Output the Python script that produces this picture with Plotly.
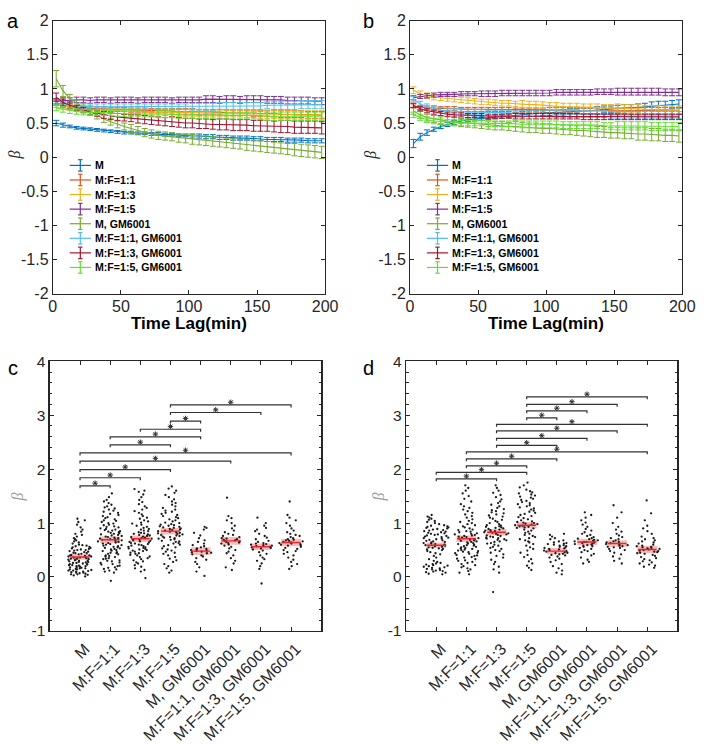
import plotly.graph_objects as go

W, H = 708, 744
FONT = "Arial, 'Liberation Sans', Helvetica, sans-serif"
INK = "#262626"

# ---------------- panels a / b : beta vs time lag ----------------
lags = [2.5, 7.5, 12.5, 17.5, 22.5, 27.5, 32.5, 37.5, 42.5, 47.5,
        52.5, 57.5, 62.5, 67.5, 72.5, 77.5, 82.5, 87.5, 92.5, 97.5,
        102.5, 107.5, 112.5, 117.5, 122.5, 127.5, 132.5, 137.5, 142.5, 147.5,
        152.5, 157.5, 162.5, 167.5, 172.5, 177.5, 182.5, 187.5, 192.5, 197.5]

names = ["M", "M:F=1:1", "M:F=1:3", "M:F=1:5", "M, GM6001",
         "M:F=1:1, GM6001", "M:F=1:3, GM6001", "M:F=1:5, GM6001"]
colors = ["#0072BD", "#D95319", "#EDB120", "#7E2F8E", "#77AC30",
          "#4DBEEE", "#A2142F", "#5FE02E"]

a_M = [0.50,0.47,0.45,0.43,0.42,0.41,0.40,0.39,0.38,0.37,0.36,0.36,0.35,0.35,0.34,0.34,0.33,0.33,0.32,0.32,
       0.31,0.31,0.30,0.30,0.29,0.29,0.28,0.28,0.28,0.27,0.27,0.26,0.26,0.26,0.25,0.25,0.25,0.24,0.24,0.24]
a_M_err = [0.04,0.03,0.02,0.02,0.02,0.02,0.02,0.02,0.02,0.02,0.02,0.02,0.02,0.02,0.02,0.02,0.02,0.02,0.02,0.02,
           0.03,0.03,0.03,0.03,0.03,0.03,0.03,0.03,0.03,0.03,0.03,0.03,0.03,0.03,0.03,0.03,0.03,0.03,0.03,0.03]
a_MF11 = [0.80,0.76,0.74,0.73,0.72,0.72,0.71,0.71,0.70,0.70,0.70,0.69,0.69,0.69,0.68,0.68,0.68,0.67,0.67,0.67,
          0.67,0.66,0.66,0.66,0.66,0.65,0.65,0.65,0.65,0.64,0.64,0.64,0.64,0.63,0.63,0.63,0.63,0.62,0.62,0.62]
a_MF11_err = [0.04,0.03,0.03,0.03,0.03,0.03,0.03,0.03,0.03,0.03,0.03,0.03,0.03,0.03,0.03,0.03,0.03,0.04,0.04,0.04,
              0.04,0.04,0.04,0.04,0.04,0.04,0.04,0.04,0.04,0.04,0.04,0.04,0.05,0.05,0.05,0.05,0.05,0.05,0.05,0.05]
a_MF13 = [0.78,0.75,0.73,0.72,0.71,0.70,0.69,0.69,0.68,0.68,0.67,0.67,0.67,0.66,0.66,0.66,0.66,0.65,0.65,0.65,
          0.65,0.65,0.64,0.64,0.64,0.64,0.64,0.64,0.63,0.63,0.63,0.63,0.63,0.63,0.63,0.62,0.62,0.62,0.62,0.62]
a_MF13_err = [0.05,0.04,0.04,0.04,0.04,0.04,0.04,0.04,0.04,0.04,0.04,0.04,0.04,0.04,0.04,0.04,0.05,0.05,0.05,0.05,
              0.05,0.05,0.05,0.05,0.05,0.05,0.05,0.05,0.05,0.05,0.06,0.06,0.06,0.06,0.06,0.06,0.06,0.06,0.06,0.06]
a_MF15 = [0.82,0.83,0.83,0.84,0.84,0.83,0.84,0.84,0.83,0.84,0.84,0.84,0.83,0.84,0.84,0.84,0.84,0.83,0.84,0.84,
          0.84,0.84,0.85,0.85,0.84,0.85,0.85,0.84,0.85,0.85,0.85,0.84,0.84,0.84,0.83,0.83,0.83,0.83,0.82,0.82]
a_MF15_err = [0.04,0.04,0.04,0.04,0.04,0.04,0.04,0.04,0.04,0.04,0.04,0.04,0.04,0.04,0.04,0.04,0.04,0.04,0.04,0.04,
              0.04,0.04,0.05,0.05,0.05,0.05,0.05,0.05,0.05,0.05,0.05,0.05,0.05,0.05,0.05,0.05,0.05,0.05,0.05,0.05]
a_MG = [1.15,0.97,0.86,0.79,0.73,0.67,0.61,0.56,0.52,0.48,0.45,0.42,0.39,0.36,0.34,0.32,0.31,0.30,0.28,0.27,
        0.26,0.25,0.24,0.23,0.22,0.21,0.20,0.19,0.18,0.17,0.16,0.15,0.14,0.13,0.12,0.11,0.10,0.09,0.08,0.07]
a_MG_err = [0.12,0.08,0.06,0.05,0.05,0.05,0.05,0.05,0.05,0.05,0.05,0.06,0.06,0.06,0.06,0.06,0.06,0.06,0.06,0.06,
            0.07,0.07,0.07,0.07,0.07,0.07,0.07,0.07,0.08,0.08,0.08,0.08,0.08,0.08,0.08,0.09,0.09,0.09,0.09,0.09]
a_MF11G = [0.80,0.77,0.76,0.75,0.75,0.74,0.74,0.74,0.74,0.74,0.74,0.74,0.74,0.74,0.74,0.74,0.74,0.74,0.74,0.74,
           0.74,0.74,0.74,0.74,0.75,0.75,0.75,0.75,0.75,0.75,0.75,0.76,0.76,0.76,0.76,0.76,0.77,0.77,0.77,0.77]
a_MF11G_err = [0.04,0.04,0.04,0.04,0.04,0.04,0.04,0.04,0.04,0.04,0.04,0.04,0.04,0.04,0.04,0.04,0.04,0.04,0.04,0.04,
               0.05,0.05,0.05,0.05,0.05,0.05,0.05,0.05,0.05,0.05,0.05,0.05,0.06,0.06,0.06,0.06,0.06,0.06,0.06,0.06]
a_MF13G = [0.88,0.80,0.76,0.72,0.69,0.66,0.64,0.62,0.60,0.59,0.58,0.57,0.56,0.55,0.54,0.53,0.52,0.52,0.51,0.50,
           0.50,0.49,0.49,0.48,0.48,0.48,0.47,0.47,0.47,0.46,0.46,0.46,0.45,0.45,0.45,0.44,0.44,0.44,0.44,0.43]
a_MF13G_err = [0.06,0.05,0.05,0.04,0.04,0.04,0.04,0.05,0.05,0.05,0.05,0.05,0.06,0.06,0.06,0.06,0.06,0.07,0.07,0.07,
               0.07,0.07,0.07,0.07,0.08,0.08,0.08,0.08,0.08,0.08,0.08,0.08,0.08,0.09,0.09,0.09,0.09,0.09,0.09,0.09]
a_MF15G = [0.72,0.70,0.68,0.67,0.66,0.66,0.65,0.65,0.65,0.64,0.64,0.64,0.64,0.63,0.63,0.63,0.63,0.63,0.62,0.62,
           0.62,0.62,0.62,0.62,0.61,0.61,0.61,0.61,0.61,0.61,0.61,0.60,0.60,0.60,0.60,0.60,0.60,0.60,0.60,0.60]
a_MF15G_err = [0.04,0.04,0.04,0.04,0.04,0.04,0.04,0.04,0.04,0.04,0.04,0.04,0.04,0.04,0.04,0.05,0.05,0.05,0.05,0.05,
               0.05,0.05,0.05,0.05,0.05,0.05,0.05,0.05,0.05,0.05,0.06,0.06,0.06,0.06,0.06,0.06,0.06,0.06,0.06,0.06]

b_M = [0.20,0.30,0.36,0.41,0.45,0.48,0.51,0.53,0.55,0.56,0.57,0.58,0.59,0.60,0.61,0.62,0.63,0.64,0.64,0.65,
       0.65,0.66,0.66,0.67,0.67,0.68,0.68,0.69,0.70,0.70,0.71,0.72,0.72,0.73,0.74,0.75,0.76,0.76,0.77,0.78]
b_M_err = [0.06,0.05,0.04,0.03,0.03,0.03,0.03,0.03,0.03,0.03,0.03,0.03,0.03,0.03,0.03,0.03,0.04,0.04,0.04,0.04,
           0.04,0.04,0.04,0.04,0.04,0.04,0.04,0.05,0.05,0.05,0.05,0.05,0.05,0.05,0.05,0.06,0.06,0.06,0.06,0.06]
b_MF11 = [0.75,0.73,0.72,0.72,0.71,0.71,0.71,0.70,0.70,0.70,0.70,0.70,0.70,0.70,0.70,0.69,0.69,0.69,0.69,0.69,
          0.69,0.69,0.69,0.69,0.69,0.68,0.68,0.68,0.68,0.68,0.68,0.68,0.68,0.68,0.68,0.68,0.68,0.68,0.68,0.68]
b_MF11_err = [0.03,0.03,0.03,0.03,0.03,0.03,0.03,0.03,0.03,0.03,0.03,0.03,0.03,0.03,0.03,0.03,0.03,0.03,0.03,0.03,
              0.04,0.04,0.04,0.04,0.04,0.04,0.04,0.04,0.04,0.04,0.04,0.04,0.05,0.05,0.05,0.05,0.05,0.05,0.05,0.05]
b_MF13 = [0.98,0.93,0.90,0.88,0.87,0.86,0.85,0.84,0.83,0.82,0.81,0.81,0.80,0.79,0.79,0.78,0.78,0.77,0.77,0.76,
          0.75,0.75,0.74,0.74,0.74,0.73,0.73,0.73,0.72,0.72,0.72,0.71,0.71,0.71,0.70,0.70,0.70,0.69,0.69,0.69]
b_MF13_err = [0.05,0.04,0.04,0.04,0.04,0.04,0.04,0.04,0.04,0.04,0.04,0.04,0.04,0.04,0.04,0.04,0.05,0.05,0.05,0.05,
              0.05,0.05,0.05,0.05,0.05,0.05,0.05,0.05,0.05,0.05,0.06,0.06,0.06,0.06,0.06,0.06,0.06,0.06,0.06,0.06]
b_MF15 = [0.87,0.89,0.90,0.91,0.92,0.92,0.92,0.93,0.93,0.93,0.93,0.93,0.93,0.94,0.94,0.94,0.94,0.94,0.94,0.94,
          0.94,0.95,0.95,0.95,0.95,0.95,0.95,0.96,0.96,0.96,0.96,0.96,0.96,0.96,0.96,0.96,0.96,0.95,0.95,0.95]
b_MF15_err = [0.03,0.03,0.03,0.03,0.03,0.03,0.03,0.03,0.03,0.03,0.04,0.04,0.04,0.04,0.04,0.04,0.04,0.04,0.04,0.04,
              0.04,0.04,0.04,0.04,0.04,0.04,0.04,0.04,0.04,0.04,0.05,0.05,0.05,0.05,0.05,0.05,0.05,0.05,0.05,0.05]
b_MG = [0.68,0.62,0.58,0.56,0.54,0.53,0.52,0.51,0.50,0.49,0.48,0.47,0.46,0.46,0.45,0.45,0.44,0.43,0.43,0.42,
        0.42,0.41,0.40,0.40,0.39,0.39,0.38,0.37,0.37,0.36,0.36,0.35,0.35,0.34,0.34,0.33,0.33,0.32,0.32,0.31]
b_MG_err = [0.05,0.05,0.05,0.05,0.05,0.06,0.06,0.06,0.06,0.06,0.06,0.06,0.06,0.06,0.06,0.07,0.07,0.07,0.07,0.07,
            0.07,0.07,0.07,0.07,0.07,0.08,0.08,0.08,0.08,0.08,0.08,0.08,0.08,0.09,0.09,0.09,0.09,0.09,0.09,0.09]
b_MF11G = [0.85,0.78,0.74,0.71,0.69,0.68,0.67,0.67,0.66,0.66,0.66,0.65,0.65,0.65,0.65,0.64,0.64,0.64,0.64,0.64,
           0.64,0.63,0.63,0.63,0.63,0.63,0.63,0.63,0.63,0.62,0.62,0.62,0.62,0.62,0.62,0.62,0.62,0.62,0.62,0.62]
b_MF11G_err = [0.04,0.04,0.04,0.04,0.04,0.04,0.04,0.04,0.04,0.04,0.04,0.04,0.04,0.04,0.04,0.04,0.04,0.04,0.04,0.04,
               0.05,0.05,0.05,0.05,0.05,0.05,0.05,0.05,0.05,0.05,0.05,0.05,0.05,0.05,0.05,0.05,0.05,0.05,0.05,0.05]
b_MF13G = [0.76,0.71,0.68,0.66,0.64,0.63,0.62,0.62,0.61,0.61,0.61,0.60,0.60,0.60,0.60,0.60,0.60,0.60,0.60,0.60,
           0.60,0.60,0.60,0.60,0.60,0.59,0.59,0.59,0.59,0.59,0.59,0.59,0.59,0.59,0.59,0.59,0.59,0.59,0.59,0.59]
b_MF13G_err = [0.03,0.03,0.03,0.03,0.03,0.03,0.03,0.03,0.03,0.03,0.03,0.03,0.03,0.03,0.03,0.04,0.04,0.04,0.04,0.04,
               0.04,0.04,0.04,0.04,0.04,0.04,0.04,0.04,0.04,0.04,0.04,0.04,0.04,0.04,0.04,0.04,0.04,0.04,0.04,0.04]
b_MF15G = [0.62,0.58,0.55,0.53,0.52,0.51,0.51,0.50,0.50,0.50,0.50,0.49,0.49,0.49,0.49,0.49,0.48,0.48,0.48,0.48,
           0.48,0.48,0.47,0.47,0.47,0.47,0.47,0.47,0.46,0.46,0.46,0.46,0.46,0.46,0.46,0.45,0.45,0.45,0.45,0.45]
b_MF15G_err = [0.04,0.04,0.04,0.04,0.04,0.04,0.04,0.04,0.04,0.04,0.04,0.04,0.04,0.04,0.04,0.05,0.05,0.05,0.05,0.05,
               0.05,0.05,0.05,0.05,0.05,0.05,0.05,0.05,0.05,0.05,0.06,0.06,0.06,0.06,0.06,0.06,0.06,0.06,0.06,0.06]

a_series = [(a_M, a_M_err), (a_MF11, a_MF11_err), (a_MF13, a_MF13_err), (a_MF15, a_MF15_err),
            (a_MG, a_MG_err), (a_MF11G, a_MF11G_err), (a_MF13G, a_MF13G_err), (a_MF15G, a_MF15G_err)]
b_series = [(b_M, b_M_err), (b_MF11, b_MF11_err), (b_MF13, b_MF13_err), (b_MF15, b_MF15_err),
            (b_MG, b_MG_err), (b_MF11G, b_MF11G_err), (b_MF13G, b_MF13G_err), (b_MF15G, b_MF15G_err)]

ab_xticks = [0, 50, 100, 150, 200]
ab_yticks = [-2, -1.5, -1, -0.5, 0, 0.5, 1, 1.5, 2]
ab_yticktext = ["-2", "-1.5", "-1", "-0.5", "0", "0.5", "1", "1.5", "2"]

# ---------------- panels c / d : per-cell beta ----------------
c_M = [0.01,0.03,0.04,0.05,0.05,0.06,0.07,0.08,0.08,0.09,0.10,0.10,0.11,0.12,0.12,0.13,0.14,0.14,0.15,0.16,
       0.16,0.17,0.18,0.18,0.19,0.20,0.20,0.21,0.22,0.22,0.23,0.24,0.24,0.25,0.26,0.26,0.27,0.28,0.28,0.29,
       0.30,0.30,0.31,0.32,0.32,0.33,0.34,0.34,0.35,0.36,0.36,0.37,0.38,0.38,0.39,0.40,0.40,0.41,0.42,0.43,
       0.44,0.44,0.45,0.46,0.47,0.48,0.49,0.50,0.50,0.51,0.52,0.53,0.54,0.55,0.56,0.57,0.58,0.59,0.60,0.62,
       0.64,0.66,0.68,0.70,0.72,0.75,0.78,0.80,0.84,0.88,0.92,0.97,1.02,1.05,1.08]
c_MF11 = [-0.07,0.08,0.10,0.12,0.14,0.15,0.17,0.18,0.20,0.21,0.23,0.24,0.26,0.27,0.29,0.30,0.31,0.33,0.34,0.35,
          0.37,0.38,0.39,0.40,0.42,0.43,0.44,0.45,0.46,0.48,0.49,0.50,0.51,0.52,0.53,0.54,0.55,0.56,0.57,0.58,
          0.59,0.60,0.61,0.62,0.63,0.64,0.65,0.66,0.67,0.68,0.69,0.70,0.70,0.71,0.72,0.73,0.74,0.75,0.76,0.77,
          0.78,0.79,0.80,0.81,0.82,0.83,0.84,0.85,0.86,0.87,0.88,0.89,0.90,0.92,0.93,0.94,0.96,0.97,0.99,1.00,
          1.02,1.04,1.05,1.07,1.09,1.11,1.13,1.15,1.17,1.19,1.21,1.23,1.25,1.27,1.29,1.31,1.34,1.37,1.40,1.43,
          1.48,1.55]
c_MF13 = [-0.02,0.10,0.13,0.16,0.19,0.22,0.25,0.27,0.29,0.31,0.33,0.35,0.37,0.38,0.40,0.41,0.43,0.44,0.45,0.47,
          0.48,0.49,0.50,0.51,0.52,0.53,0.54,0.55,0.56,0.57,0.58,0.59,0.60,0.61,0.62,0.63,0.64,0.65,0.66,0.67,
          0.68,0.69,0.70,0.71,0.72,0.73,0.74,0.75,0.76,0.77,0.78,0.79,0.80,0.81,0.82,0.83,0.85,0.86,0.88,0.89,
          0.91,0.93,0.95,0.97,0.99,1.01,1.03,1.05,1.08,1.10,1.13,1.16,1.19,1.22,1.25,1.28,1.31,1.35,1.39,1.43,
          1.48,1.53,1.58,1.60,1.63]
c_MF15 = [0.08,0.12,0.16,0.20,0.24,0.28,0.31,0.34,0.37,0.40,0.43,0.45,0.47,0.49,0.51,0.53,0.55,0.57,0.59,0.60,
          0.62,0.63,0.65,0.66,0.67,0.69,0.70,0.71,0.72,0.73,0.74,0.75,0.76,0.77,0.78,0.79,0.80,0.81,0.82,0.83,
          0.84,0.85,0.86,0.87,0.88,0.89,0.90,0.91,0.92,0.93,0.94,0.95,0.96,0.97,0.98,1.00,1.01,1.03,1.05,1.07,
          1.09,1.11,1.13,1.15,1.17,1.19,1.21,1.23,1.25,1.28,1.31,1.34,1.37,1.40,1.44,1.48,1.52,1.56,1.60,1.64,
          1.68]
c_MG = [0.02,0.10,0.18,0.24,0.28,0.32,0.35,0.38,0.40,0.42,0.44,0.45,0.46,0.47,0.48,0.49,0.50,0.51,0.52,0.53,
        0.55,0.57,0.59,0.62,0.65,0.68,0.72,0.77,0.82,0.88,0.91,0.93]
c_MF11G = [0.13,0.18,0.25,0.30,0.35,0.40,0.44,0.47,0.50,0.53,0.56,0.58,0.60,0.62,0.63,0.64,0.65,0.66,0.67,0.68,
           0.69,0.70,0.71,0.72,0.74,0.76,0.78,0.80,0.83,0.86,0.90,0.95,1.00,1.05,1.09,1.13,1.47]
c_MF13G = [-0.12,0.15,0.20,0.25,0.30,0.33,0.36,0.40,0.43,0.46,0.49,0.51,0.53,0.54,0.55,0.56,0.57,0.58,0.59,0.60,
           0.61,0.62,0.63,0.65,0.67,0.70,0.73,0.76,0.80,0.85,0.88,0.91,0.95,1.00,1.10]
c_MF15G = [0.15,0.20,0.24,0.28,0.32,0.36,0.40,0.43,0.46,0.48,0.50,0.52,0.54,0.56,0.58,0.59,0.60,0.61,0.62,0.63,
           0.64,0.65,0.66,0.67,0.68,0.69,0.70,0.72,0.74,0.76,0.78,0.80,0.83,0.86,0.90,0.95,1.00,1.05,1.10,1.15,
           1.40]
c_mean = [0.37, 0.69, 0.71, 0.85, 0.48, 0.67, 0.56, 0.64]
c_sem = [0.05, 0.06, 0.06, 0.06, 0.07, 0.07, 0.06, 0.07]
c_br_from = [0, 0, 0, 0, 0, 1, 1, 2, 3, 3, 3]
c_br_to = [1, 2, 3, 5, 7, 3, 4, 4, 4, 6, 7]
c_br_y = [1.69, 1.84, 1.99, 2.15, 2.30, 2.45, 2.60, 2.74, 2.89, 3.05, 3.19]

d_M = [0.05,0.06,0.08,0.09,0.10,0.11,0.12,0.13,0.14,0.15,0.16,0.17,0.18,0.19,0.20,0.21,0.22,0.23,0.24,0.25,
       0.26,0.28,0.30,0.33,0.36,0.39,0.42,0.44,0.46,0.48,0.50,0.51,0.52,0.53,0.54,0.55,0.56,0.57,0.58,0.59,
       0.60,0.61,0.62,0.63,0.64,0.65,0.66,0.67,0.68,0.69,0.70,0.71,0.72,0.73,0.74,0.75,0.76,0.77,0.78,0.79,
       0.80,0.81,0.82,0.83,0.84,0.85,0.86,0.87,0.88,0.89,0.90,0.91,0.92,0.93,0.94,0.95,0.96,0.98,1.00,1.02,
       1.04,1.06,1.08,1.10,1.12,1.15]
d_MF11 = [0.05,0.08,0.11,0.14,0.16,0.18,0.20,0.22,0.24,0.26,0.28,0.30,0.31,0.33,0.34,0.36,0.37,0.39,0.40,0.41,
          0.43,0.44,0.45,0.46,0.47,0.48,0.49,0.50,0.51,0.52,0.53,0.54,0.55,0.56,0.57,0.58,0.59,0.60,0.61,0.62,
          0.63,0.64,0.65,0.66,0.67,0.68,0.69,0.70,0.71,0.72,0.73,0.74,0.75,0.76,0.77,0.78,0.79,0.80,0.81,0.83,
          0.84,0.85,0.87,0.88,0.90,0.92,0.94,0.96,0.98,1.00,1.02,1.04,1.07,1.10,1.13,1.16,1.19,1.22,1.25,1.28,
          1.31,1.35,1.40,1.45,1.50,1.55,1.60,1.65,1.70]
d_MF13 = [-0.28,0.08,0.14,0.19,0.24,0.28,0.32,0.36,0.39,0.42,0.45,0.48,0.50,0.52,0.54,0.56,0.58,0.60,0.62,0.63,
          0.65,0.66,0.68,0.69,0.70,0.71,0.72,0.73,0.74,0.75,0.76,0.77,0.78,0.79,0.80,0.81,0.82,0.83,0.84,0.85,
          0.86,0.87,0.88,0.89,0.90,0.91,0.92,0.93,0.94,0.95,0.96,0.98,1.00,1.02,1.04,1.06,1.08,1.10,1.12,1.14,
          1.16,1.18,1.20,1.22,1.24,1.26,1.28,1.31,1.34,1.37,1.40,1.44,1.48,1.52,1.56,1.60,1.65,1.70]
d_MF15 = [0.13,0.17,0.21,0.25,0.29,0.33,0.37,0.41,0.45,0.49,0.52,0.55,0.58,0.61,0.64,0.66,0.68,0.70,0.72,0.74,
          0.76,0.78,0.80,0.82,0.84,0.86,0.88,0.90,0.91,0.92,0.93,0.94,0.95,0.96,0.97,0.98,0.99,1.00,1.01,1.02,
          1.03,1.05,1.07,1.09,1.11,1.13,1.15,1.17,1.19,1.21,1.23,1.25,1.27,1.29,1.31,1.33,1.35,1.37,1.39,1.41,
          1.43,1.45,1.47,1.49,1.51,1.53,1.55,1.57,1.59,1.62,1.66,1.70,1.75]
d_MG = [0.05,0.08,0.12,0.16,0.20,0.24,0.28,0.31,0.34,0.36,0.38,0.40,0.41,0.42,0.43,0.44,0.45,0.46,0.47,0.48,
        0.49,0.50,0.51,0.52,0.53,0.54,0.55,0.56,0.57,0.58,0.59,0.60,0.61,0.62,0.63,0.64,0.66,0.68,0.70,0.72,
        0.75,0.78,0.80]
d_MF11G = [0.25,0.28,0.32,0.36,0.40,0.43,0.46,0.48,0.50,0.52,0.54,0.56,0.57,0.58,0.59,0.60,0.61,0.62,0.63,0.64,
           0.65,0.65,0.66,0.67,0.68,0.69,0.70,0.71,0.72,0.74,0.76,0.78,0.80,0.83,0.86,0.89,0.93,0.97,1.01,1.05,
           1.10,1.15,1.20]
d_MF13G = [0.25,0.30,0.34,0.38,0.42,0.45,0.48,0.50,0.52,0.54,0.55,0.56,0.57,0.58,0.59,0.60,0.61,0.62,0.63,0.64,
           0.65,0.66,0.68,0.70,0.72,0.74,0.77,0.80,0.84,0.88,0.93,1.00,1.10,1.20,1.33]
d_MF15G = [0.17,0.19,0.21,0.23,0.25,0.27,0.29,0.31,0.33,0.35,0.37,0.39,0.41,0.43,0.44,0.45,0.46,0.47,0.48,0.49,
           0.50,0.51,0.52,0.53,0.54,0.55,0.56,0.57,0.58,0.60,0.62,0.64,0.66,0.68,0.70,0.72,0.75,0.80,0.85,0.90,
           0.95,1.05,1.18,1.42]
d_mean = [0.59, 0.71, 0.83, 0.96, 0.48, 0.65, 0.62, 0.51]
d_sem = [0.05, 0.06, 0.06, 0.06, 0.06, 0.06, 0.06, 0.07]
d_br_from = [0, 0, 1, 1, 1, 2, 2, 2, 2, 3, 3, 3, 3]
d_br_to = [2, 3, 3, 4, 7, 4, 5, 6, 7, 4, 5, 6, 7]
d_br_y = [1.82, 1.94, 2.06, 2.19, 2.32, 2.44, 2.57, 2.71, 2.83, 2.95, 3.08, 3.20, 3.34]

c_groups = [c_M, c_MF11, c_MF13, c_MF15, c_MG, c_MF11G, c_MF13G, c_MF15G]
d_groups = [d_M, d_MF11, d_MF13, d_MF15, d_MG, d_MF11G, d_MF13G, d_MF15G]
cd_yticks = [-1, 0, 1, 2, 3, 4]
cd_yticktext = ["-1", "0", "1", "2", "3", "4"]

# ---------------- layout geometry (pixels -> paper) ----------------
def dx(x0, x1):
    return [x0 / W, x1 / W]

def dy(top, bot):
    return [1 - bot / H, 1 - top / H]

panels = {
    "a": dict(ax="", xd=dx(50, 329), yd=dy(12, 293)),
    "b": dict(ax="2", xd=dx(416, 695), yd=dy(12, 293)),
    "c": dict(ax="3", xd=dx(47, 325), yd=dy(362.5, 640)),
    "d": dict(ax="4", xd=dx(412, 690), yd=dy(362.5, 640)),
}

fig = go.Figure()
shapes = []
annotations = []

# ---- a / b traces and in-axes legends ----
LEG_Y0, LEG_DY = 0.470, 0.0534
for key, series in (("a", a_series), ("b", b_series)):
    ax = panels[key]["ax"]
    for k, (m, e) in enumerate(series):
        fig.add_trace(go.Scatter(
            x=lags, y=m, mode="lines",
            line=dict(color=colors[k], width=1.1),
            error_y=dict(type="data", array=e, color=colors[k], thickness=1, width=3),
            xaxis="x" + ax, yaxis="y" + ax, showlegend=False, hoverinfo="skip"))
    xr, yr = "x%s domain" % ax, "y%s domain" % ax
    for k, nm in enumerate(names):
        yy = LEG_Y0 - LEG_DY * k
        c = colors[k]
        shapes.append(dict(type="line", xref=xr, yref=yr, x0=0.062, x1=0.140, y0=yy, y1=yy,
                           line=dict(color=c, width=1.2)))
        shapes.append(dict(type="line", xref=xr, yref=yr, x0=0.101, x1=0.101, y0=yy - 0.021, y1=yy + 0.021,
                           line=dict(color=c, width=1.2)))
        for s in (-1, 1):
            shapes.append(dict(type="line", xref=xr, yref=yr, x0=0.093, x1=0.109,
                               y0=yy + s * 0.021, y1=yy + s * 0.021, line=dict(color=c, width=1.2)))
        annotations.append(dict(xref=xr, yref=yr, x=0.147, y=yy, text="<b>%s</b>" % nm, showarrow=False,
                                xanchor="left", yanchor="middle",
                                font=dict(family=FONT, size=10.6, color="#000000")))

# ---- c / d traces ----
for key, groups, means, sems, bf, bt, by in (
        ("c", c_groups, c_mean, c_sem, c_br_from, c_br_to, c_br_y),
        ("d", d_groups, d_mean, d_sem, d_br_from, d_br_to, d_br_y)):
    ax = panels[key]["ax"]
    xa, ya = "x" + ax, "y" + ax
    cats = list(range(len(groups)))
    fig.add_trace(go.Bar(
        x=cats, y=[2 * s for s in sems], base=[m - s for m, s in zip(means, sems)],
        width=0.66, marker=dict(color="rgba(245,120,120,0.5)", line=dict(width=0)),
        xaxis=xa, yaxis=ya, showlegend=False, hoverinfo="skip"))
    lx, ly = [], []
    for i, m in zip(cats, means):
        lx += [i - 0.31, i + 0.31, None]
        ly += [m, m, None]
    fig.add_trace(go.Scatter(x=lx, y=ly, mode="lines", line=dict(color="#E4252B", width=1.4),
                             xaxis=xa, yaxis=ya, showlegend=False, hoverinfo="skip"))
    xs = [i for i, g in zip(cats, groups) for _ in g]
    ys = [v for g in groups for v in g]
    fig.add_trace(go.Box(
        x=xs, y=ys, boxpoints="all", jitter=1.0, pointpos=0, width=0.85,
        fillcolor="rgba(0,0,0,0)", line=dict(color="rgba(0,0,0,0)", width=0), whiskerwidth=0,
        marker=dict(size=2.3, color="#1a1a1a"),
        xaxis=xa, yaxis=ya, showlegend=False, hoverinfo="skip"))
    bx, byy, sx, sy = [], [], [], []
    for f, t, h in zip(bf, bt, by):
        bx += [f, f, t, t, None]
        byy += [h - 0.045, h, h, h - 0.045, None]
        sx.append((f + t) / 2)
        sy.append(h + 0.05)
    fig.add_trace(go.Scatter(x=bx, y=byy, mode="lines", line=dict(color="#333333", width=1.2),
                             xaxis=xa, yaxis=ya, showlegend=False, hoverinfo="skip"))
    fig.add_trace(go.Scatter(x=sx, y=sy, mode="markers",
                             marker=dict(symbol="asterisk-open", size=4.5, color="#333333",
                                         line=dict(color="#333333", width=1)),
                             xaxis=xa, yaxis=ya, showlegend=False, hoverinfo="skip"))

# ---------------- axes ----------------
layout_axes = {}
for key in ("a", "b"):
    p = panels[key]
    ax = p["ax"]
    layout_axes["xaxis" + ax] = dict(
        domain=p["xd"], anchor="y" + ax, range=[0, 200], tickvals=ab_xticks,
        ticks="inside", ticklen=4, tickcolor=INK, showline=True, linecolor=INK, linewidth=1,
        mirror="ticks", showgrid=False, zeroline=False, ticklabelstandoff=-2,
        tickfont=dict(family=FONT, size=16, color=INK))
    layout_axes["yaxis" + ax] = dict(
        domain=p["yd"], anchor="x" + ax, range=[-2, 2], tickvals=ab_yticks, ticktext=ab_yticktext,
        ticks="inside", ticklen=4, tickcolor=INK, showline=True, linecolor=INK, linewidth=1,
        mirror="ticks", showgrid=False, zeroline=False,
        tickfont=dict(family=FONT, size=16, color=INK))
for key in ("c", "d"):
    p = panels[key]
    ax = p["ax"]
    layout_axes["xaxis" + ax] = dict(
        domain=p["xd"], anchor="y" + ax, range=[-1, 8], tickvals=list(range(8)), ticktext=names,
        tickangle=-45, ticks="inside", ticklen=4, tickcolor=INK, showline=True, linecolor=INK,
        linewidth=1.5, mirror="ticks", showgrid=False, zeroline=False,
        ticklabelshift=5, ticklabelstandoff=1,
        tickfont=dict(family=FONT, size=16, color=INK))
    layout_axes["yaxis" + ax] = dict(
        domain=p["yd"], anchor="x" + ax, range=[-1, 4], tickvals=cd_yticks, ticktext=cd_yticktext,
        ticks="inside", ticklen=4, tickcolor=INK, showline=True, linecolor=INK, linewidth=1.5,
        mirror="ticks", showgrid=False, zeroline=False,
        minor=dict(dtick=0.2, tick0=0, ticks="inside", ticklen=2.5, tickcolor=INK, showgrid=False),
        tickfont=dict(family=FONT, size=15.5, color=INK))

# ---------------- labels ----------------
def pa(x, y, text, size, color="#000000", angle=0, family=FONT):
    annotations.append(dict(xref="paper", yref="paper", x=x / W, y=1 - y / H, text=text,
                            showarrow=False, xanchor="center", yanchor="middle", textangle=angle,
                            font=dict(family=family, size=size, color=color)))

pa(9.5, 12, "a", 20)
pa(373, 12, "b", 20)
pa(9.5, 369, "c", 20)
pa(373, 369, "d", 20)
pa(189.5, 324, "<b>Time Lag(min)</b>", 17)
pa(555.5, 324, "<b>Time Lag(min)</b>", 17)
pa(11, 150, "<i>β</i>", 16, color=INK, angle=-90, family="'Liberation Serif', serif")
pa(376, 150, "<i>β</i>", 16, color=INK, angle=-90, family="'Liberation Serif', serif")
pa(14, 502, "<i>β</i>", 16, color="#9a9a9a", angle=-90, family="'Liberation Serif', serif")
pa(384, 502, "<i>β</i>", 16, color="#9a9a9a", angle=-90, family="'Liberation Serif', serif")

fig.update_layout(
    width=W, height=H, margin=dict(l=0, r=0, t=0, b=0),
    paper_bgcolor="white", plot_bgcolor="white",
    font=dict(family=FONT, color=INK),
    showlegend=False, boxmode="overlay", barmode="overlay", hovermode=False,
    shapes=shapes, annotations=annotations,
    **layout_axes)

fig.write_html("out.html", config={"displayModeBar": False, "staticPlot": True},
               post_script="document.body.style.margin='0';document.body.style.padding='0';")
